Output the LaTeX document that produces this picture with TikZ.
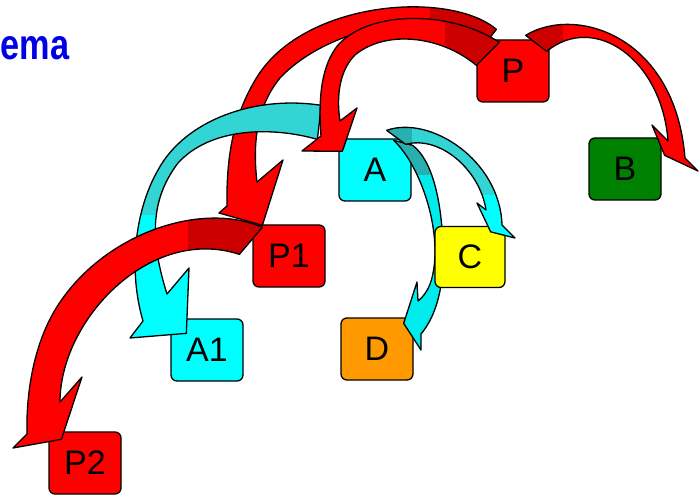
\documentclass[tikz,border=0pt]{standalone}
\usepackage{fontspec}
\setmainfont{Liberation Sans}
\usetikzlibrary{calc}

\definecolor{nodered}{RGB}{255,0,0}
\definecolor{nodecyan}{RGB}{0,255,255}
\definecolor{nodegreen}{RGB}{0,128,0}
\definecolor{nodeyellow}{RGB}{255,255,0}
\definecolor{nodeorange}{RGB}{255,153,0}
\definecolor{bandred}{RGB}{255,0,0}
\definecolor{bandshade}{RGB}{205,0,0}
\definecolor{bandturq}{RGB}{50,212,212}
\definecolor{bandcyan}{RGB}{0,235,235}
\definecolor{shadeturq}{RGB}{40,176,176}
\definecolor{titleblue}{RGB}{0,0,230}

\tikzset{
    box/.style={draw=black, line width=1.3pt, rounded corners=6pt, minimum width=72pt,
        minimum height=62pt, inner sep=0pt, font=\fontsize{34}{40}\selectfont},
    band/.style={draw=black, line width=1.3pt, line join=round}
}

% fill a bent block arrow, shade part of it, then outline it
\newcommand{\bentarrow}[3]{%
    \fill[#2] #1;
    \begin{scope}
        \clip #1;
        #3
    \end{scope}
    \draw[band] #1;
}

\begin{document}
\begin{tikzpicture}[x=1pt, y=-1pt]
    \useasboundingbox (0,0) rectangle (699,497);

    % Title
    \node[anchor=base west, inner sep=0pt, text=titleblue,
        font=\bfseries\fontsize{35}{40}\selectfont] (title) at (0.5,60) {\scalebox{0.98}[1.22]{ema}};

    % Draw the boxes
    \node[box, fill=nodered] (P) at (513,71) {P};
    \node[box, fill=nodegreen] (B) at (625,169) {B};
    \node[box, fill=nodecyan] (A) at (375,170) {A};
    \node[box, fill=nodeorange] (D) at (377,349) {D};
    \node[box, fill=nodered] (P1) at (289,256) {P1};
    \node[box, fill=nodecyan] (A1) at (207,350) {A1};
    \node[box, fill=nodered] (P2) at (85,463) {P2};

    % P to P1
    \def\pponepath{($(P.north west)+(20,-10)$) .. controls (450,-10) and (305,0) .. (257,77)
        .. controls (236,111) and (226,150) .. (227,206) -- (219,213) -- ($(P1.north west)+(10,1)$)
        -- (283,160) -- (257,182) .. controls (252,140) and (258,105) .. (280,78)
        .. controls (330,25) and (440,5) .. ($(P.north west)+(7,7)$) -- cycle}
    \bentarrow{\pponepath}{bandred}{\fill[bandshade] (430,0) rectangle (510,80);}

    % A to A1
    \def\aaonepath{($(A.north west)+(-17,-33)$) .. controls (255,95) and (185,120) .. (158,170)
        .. controls (135,210) and (128,270) .. (143,321) -- (130,338) -- ($(A1.north west)+(16,15)$)
        -- (189,268) -- (167,294) .. controls (150,240) and (150,200) .. (178,163)
        .. controls (210,128) and (270,126) .. ($(A.north west)+(-21,1)$) -- cycle}
    \bentarrow{\aaonepath}{bandturq}{\fill[nodecyan] (100,215) rectangle (200,350);}

    % P to A
    \def\papath{($(P.north west)+(23,3)$) .. controls (450,10) and (370,10) .. (338,45)
        .. controls (322,65) and (318,95) .. (321,136) -- (302,151) -- ($(A.north west)+(4,13)$)
        -- (357,108) -- (340,121) .. controls (336,95) and (340,70) .. (355,55)
        .. controls (385,30) and (440,35) .. ($(P.north west)+(0,26)$) -- cycle}
    \bentarrow{\papath}{bandred}{\fill[bandshade] (445,0) rectangle (510,80);}

    % P1 to P2
    \def\ponetwopath{($(P1.north west)+(10,3)$) .. controls (200,200) and (100,235) .. (55,310)
        .. controls (33,347) and (26,395) .. (27,434) -- (13,448) -- ($(P2.north west)+(13,8)$)
        -- (82,377) -- (60,402) .. controls (60,320) and (150,225) .. ($(P1.north west)+(-13,30)$) -- cycle}
    \bentarrow{\ponetwopath}{bandred}{\fill[bandshade] (188,200) rectangle (275,270);}

    % P to B
    \def\pbpath{($(P.north east)+(-24,-4)$) .. controls (575,5) and (675,35) .. (685,158)
        -- (698,171) -- ($(B.north east)+(3,18)$) -- (652,125) -- (668,141)
        .. controls (662,60) and (595,12) .. ($(P.north east)+(-3,12)$) -- cycle}
    \bentarrow{\pbpath}{bandred}{\fill[bandshade] (510,0) -- (560,0) -- (566,70) -- (510,70) -- cycle;}

    % A to D
    \def\adpath{($(A.north east)+(-18,2)$) .. controls (415,160) and (436,210) .. (435,255)
        .. controls (434,280) and (428,293) .. (418,301) -- (417,282) -- ($(D.north east)+(-10,6)$)
        -- (421,350) -- (421,334) .. controls (437,315) and (444,285) .. (443,250)
        .. controls (442,200) and (432,160) .. ($(A.north east)+(1,7)$) -- cycle}
    \bentarrow{\adpath}{bandcyan}{\fill[shadeturq] (385,130) rectangle (430,175);}

    % C sits over the A to D arrow
    \node[box, fill=nodeyellow, minimum width=70pt, minimum height=61pt] (C) at (470,257) {C};

    % A to C
    \def\acpath{($(A.north east)+(-25,-8)$) .. controls (430,115) and (500,160) .. (502,225)
        -- (515,238) -- ($(C.north east)+(-15,6)$) -- (477,203) -- (486,210)
        .. controls (480,170) and (440,135) .. ($(A.north east)+(-6,6)$) -- cycle}
    \bentarrow{\acpath}{bandturq}{\fill[shadeturq] (380,120) rectangle (412,150);
        \fill[nodecyan] (470,195) rectangle (520,245);}
\end{tikzpicture}
\end{document}
